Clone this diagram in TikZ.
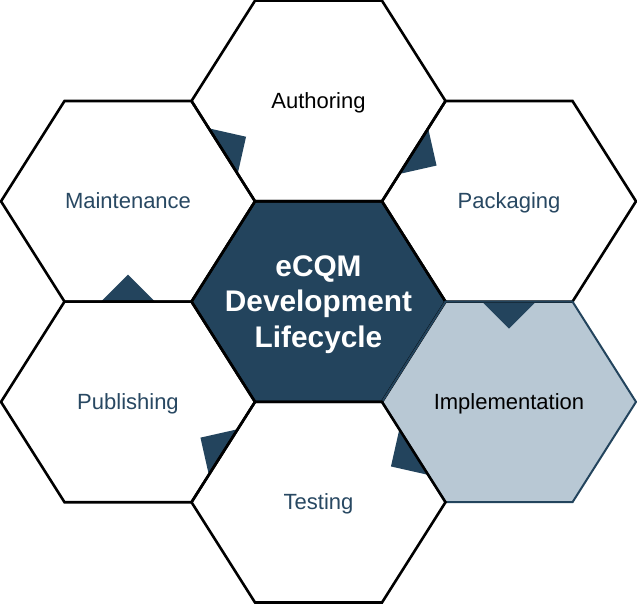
\documentclass[tikz,border=0pt]{standalone}
\usepackage{fontspec}
\setmainfont{Liberation Sans}
\usetikzlibrary{calc}
\definecolor{navy}{HTML}{23445D}
\definecolor{mist}{HTML}{B8C8D4}
\definecolor{inkblue}{HTML}{284862}
% flat-topped hexagon round a centre
\newcommand{\hexpath}[1]{(#1) +(-127,0) -- +(-63.5,-100.3) -- +(63.5,-100.3)
  -- +(127,0) -- +(63.5,100.3) -- +(-63.5,100.3) -- cycle}
\begin{document}
\begin{tikzpicture}[
  x=1pt, y=-1pt,
  hexline/.style={draw=black,line width=2.6pt,line join=miter},
  tab/.style={fill=navy},
  celltext/.style={anchor=base,font=\fontsize{22}{26}\selectfont,inner sep=0pt},
  core text/.style={align=center,text=white,inner sep=0pt,
    font=\fontsize{29.8}{35.5}\selectfont\bfseries}]
\useasboundingbox (0,0) rectangle (637,604);
% cell centres
\coordinate (auth)  at (318.5,101);
\coordinate (maint) at (128,201.3);
\coordinate (pack)  at (509,201.3);
\coordinate (core)  at (318.5,301.6);
\coordinate (publ)  at (128,401.9);
\coordinate (impl)  at (509,401.9);
\coordinate (test)  at (318.5,502.2);
% fills
\foreach \c/\col in {auth/white,maint/white,pack/white,core/navy,
    publ/white,impl/mist,test/white}
  \fill[\col] \hexpath{\c};
% arrow tabs on the shared edges
\foreach \a/\b/\ux/\uy/\px/\py in {maint/auth/14.4/22.8/22.8/-14.4,
    auth/pack/-14.4/22.8/22.8/14.4, pack/impl/27/0/0/27,
    impl/test/14.4/22.8/-22.8/14.4, test/publ/-14.4/22.8/-22.8/-14.4,
    publ/maint/27/0/0/-27}{
  \coordinate (m) at ($(\a)!.5!(\b)$);
  \fill[tab] ($(m)+(\ux,\uy)$) -- ($(m)+(\px,\py)$) -- ($(m)-(\ux,\uy)$) -- cycle;
}
% outlines
\foreach \c in {auth,maint,pack,core,publ}
  \draw[hexline] \hexpath{\c};
\draw[hexline,draw=navy,line width=2pt] \hexpath{impl};
\draw[hexline] \hexpath{test};
% labels
\node[celltext] (auth-l) at ($(auth)+(0,8)$) {Authoring};
\node[celltext,text=inkblue] (maint-l) at ($(maint)+(0,7.5)$) {Maintenance};
\node[celltext,text=inkblue] (pack-l) at ($(pack)+(0,7.5)$) {Packaging};
\node[celltext] (impl-l) at ($(impl)+(0,7.5)$) {Implementation};
\node[celltext,text=inkblue] (test-l) at ($(test)+(0,7.5)$) {Testing};
\node[celltext,text=inkblue] (publ-l) at ($(publ)+(0,7.5)$) {Publishing};
\node[core text] (core-l) at ($(core)+(0,3)$) {eCQM\\Development\\Lifecycle};
\end{tikzpicture}
\end{document}
